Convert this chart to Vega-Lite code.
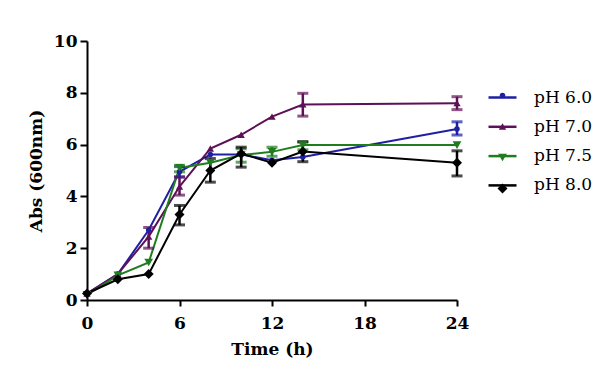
{
  "$schema": "https://vega.github.io/schema/vega-lite/v6.json",
  "width": 370,
  "height": 259,
  "autosize": {"type": "none"},
  "padding": {"left": 87, "top": 41, "right": 157, "bottom": 90},
  "background": "white",
  "config": {
    "view": {"stroke": null},
    "font": "DejaVu Serif",
    "axis": {
      "grid": false,
      "domainColor": "black",
      "domainWidth": 2,
      "tickColor": "black",
      "tickWidth": 2,
      "labelFont": "DejaVu Serif",
      "labelFontWeight": "bold",
      "labelFontSize": 17,
      "labelColor": "black",
      "labelFlush": false,
      "titleFont": "DejaVu Serif",
      "titleFontWeight": "bold",
      "titleFontSize": 17,
      "titleColor": "black"
    }
  },
  "data": {
    "values": [
      {"t": 0, "pH": "pH 6.0", "v": 0.25},
      {"t": 2, "pH": "pH 6.0", "v": 1.0},
      {"t": 4, "pH": "pH 6.0", "v": 2.7},
      {"t": 6, "pH": "pH 6.0", "v": 4.95, "lo": 4.75, "hi": 5.15},
      {"t": 8, "pH": "pH 6.0", "v": 5.62},
      {"t": 10, "pH": "pH 6.0", "v": 5.62},
      {"t": 12, "pH": "pH 6.0", "v": 5.4},
      {"t": 14, "pH": "pH 6.0", "v": 5.52},
      {"t": 24, "pH": "pH 6.0", "v": 6.6, "lo": 6.37, "hi": 6.88},
      {"t": 0, "pH": "pH 7.0", "v": 0.25},
      {"t": 2, "pH": "pH 7.0", "v": 1.0},
      {"t": 4, "pH": "pH 7.0", "v": 2.45, "lo": 2.0, "hi": 2.8},
      {"t": 6, "pH": "pH 7.0", "v": 4.38, "lo": 4.05, "hi": 4.75},
      {"t": 8, "pH": "pH 7.0", "v": 5.85},
      {"t": 10, "pH": "pH 7.0", "v": 6.38},
      {"t": 12, "pH": "pH 7.0", "v": 7.08},
      {"t": 14, "pH": "pH 7.0", "v": 7.55, "lo": 7.1, "hi": 7.98},
      {"t": 24, "pH": "pH 7.0", "v": 7.6, "lo": 7.35, "hi": 7.85},
      {"t": 0, "pH": "pH 7.5", "v": 0.2},
      {"t": 2, "pH": "pH 7.5", "v": 0.95},
      {"t": 4, "pH": "pH 7.5", "v": 1.45},
      {"t": 6, "pH": "pH 7.5", "v": 5.1, "lo": 4.95, "hi": 5.2},
      {"t": 8, "pH": "pH 7.5", "v": 5.3},
      {"t": 10, "pH": "pH 7.5", "v": 5.6, "lo": 5.32, "hi": 5.84},
      {"t": 12, "pH": "pH 7.5", "v": 5.72, "lo": 5.55, "hi": 5.9},
      {"t": 14, "pH": "pH 7.5", "v": 5.98, "lo": 5.8, "hi": 6.1},
      {"t": 24, "pH": "pH 7.5", "v": 5.98},
      {"t": 0, "pH": "pH 8.0", "v": 0.25},
      {"t": 2, "pH": "pH 8.0", "v": 0.8},
      {"t": 4, "pH": "pH 8.0", "v": 1.0},
      {"t": 6, "pH": "pH 8.0", "v": 3.3, "lo": 2.9, "hi": 3.65},
      {"t": 8, "pH": "pH 8.0", "v": 5.0, "lo": 4.55, "hi": 5.46},
      {"t": 10, "pH": "pH 8.0", "v": 5.65, "lo": 5.13, "hi": 5.9},
      {"t": 12, "pH": "pH 8.0", "v": 5.3},
      {"t": 14, "pH": "pH 8.0", "v": 5.73, "lo": 5.34, "hi": 6.11},
      {"t": 24, "pH": "pH 8.0", "v": 5.3, "lo": 4.79, "hi": 5.76}
    ]
  },
  "encoding": {
    "x": {
      "field": "t",
      "type": "quantitative",
      "scale": {"domain": [0, 24], "nice": false},
      "axis": {"values": [0, 6, 12, 18, 24], "title": "Time (h)", "tickSize": 6, "labelPadding": 9, "titlePadding": 10}
    }
  },
  "layer": [
    {
      "mark": {"type": "line", "strokeWidth": 2},
      "encoding": {
        "y": {
          "field": "v",
          "type": "quantitative",
          "title": "Abs (600nm)",
          "scale": {"domain": [0, 10], "nice": false},
          "axis": {"values": [0, 2, 4, 6, 8, 10], "title": "Abs (600nm)", "tickSize": 7, "labelPadding": 3, "titlePadding": 8}
        },
        "color": {
          "field": "pH",
          "type": "nominal",
          "scale": {"domain": ["pH 6.0", "pH 7.0", "pH 7.5", "pH 8.0"], "range": ["#1f1fa3", "#5e1056", "#1f7d1f", "#000000"]},
          "legend": {
            "orient": "none",
            "legendX": 400,
            "legendY": 41,
            "title": null,
            "padding": 0,
            "symbolType": "stroke",
            "symbolSize": 784,
            "symbolStrokeWidth": 2.5,
            "rowPadding": 5.3,
            "labelOffset": 16,
            "labelFont": "DejaVu Serif",
            "labelFontSize": 17,
            "labelColor": "black"
          }
        }
      }
    },
    {
      "transform": [{"filter": "isValid(datum.lo)"}],
      "mark": {"type": "errorbar", "ticks": {"size": 11, "thickness": 3}, "thickness": 2.5},
      "encoding": {
        "y": {"field": "lo", "type": "quantitative", "title": "Abs (600nm)", "scale": {"domain": [0, 10], "nice": false}},
        "y2": {"field": "hi"},
        "color": {
          "field": "pH",
          "type": "nominal",
          "scale": {"domain": ["pH 6.0", "pH 7.0", "pH 7.5", "pH 8.0"], "range": ["#1f1fa3", "#5e1056", "#1f7d1f", "#000000"]},
          "legend": null
        }
      }
    },
    {
      "mark": {"type": "point", "filled": true, "opacity": 1},
      "encoding": {
        "y": {"field": "v", "type": "quantitative", "title": "Abs (600nm)", "scale": {"domain": [0, 10], "nice": false}},
        "color": {
          "field": "pH",
          "type": "nominal",
          "scale": {"domain": ["pH 6.0", "pH 7.0", "pH 7.5", "pH 8.0"], "range": ["#1f1fa3", "#5e1056", "#1f7d1f", "#000000"]},
          "legend": {
            "orient": "none",
            "legendX": 407,
            "legendY": 46,
            "title": null,
            "padding": 0,
            "rowPadding": 13,
            "symbolStrokeWidth": 0,
            "labelExpr": "''",
            "labelFontSize": 17
          }
        },
        "shape": {
          "field": "pH",
          "type": "nominal",
          "scale": {"domain": ["pH 6.0", "pH 7.0", "pH 7.5", "pH 8.0"], "range": ["circle", "triangle-up", "triangle-down", "diamond"]},
          "legend": {
            "orient": "none",
            "legendX": 407,
            "legendY": 46,
            "title": null,
            "padding": 0,
            "rowPadding": 13,
            "symbolStrokeWidth": 0,
            "labelExpr": "''",
            "labelFontSize": 17
          }
        },
        "size": {
          "field": "pH",
          "type": "nominal",
          "scale": {"domain": ["pH 6.0", "pH 7.0", "pH 7.5", "pH 8.0"], "range": [30, 100, 100, 100]},
          "legend": null
        }
      }
    }
  ],
  "resolve": {"scale": {"color": "independent", "shape": "independent", "size": "independent"}}
}
